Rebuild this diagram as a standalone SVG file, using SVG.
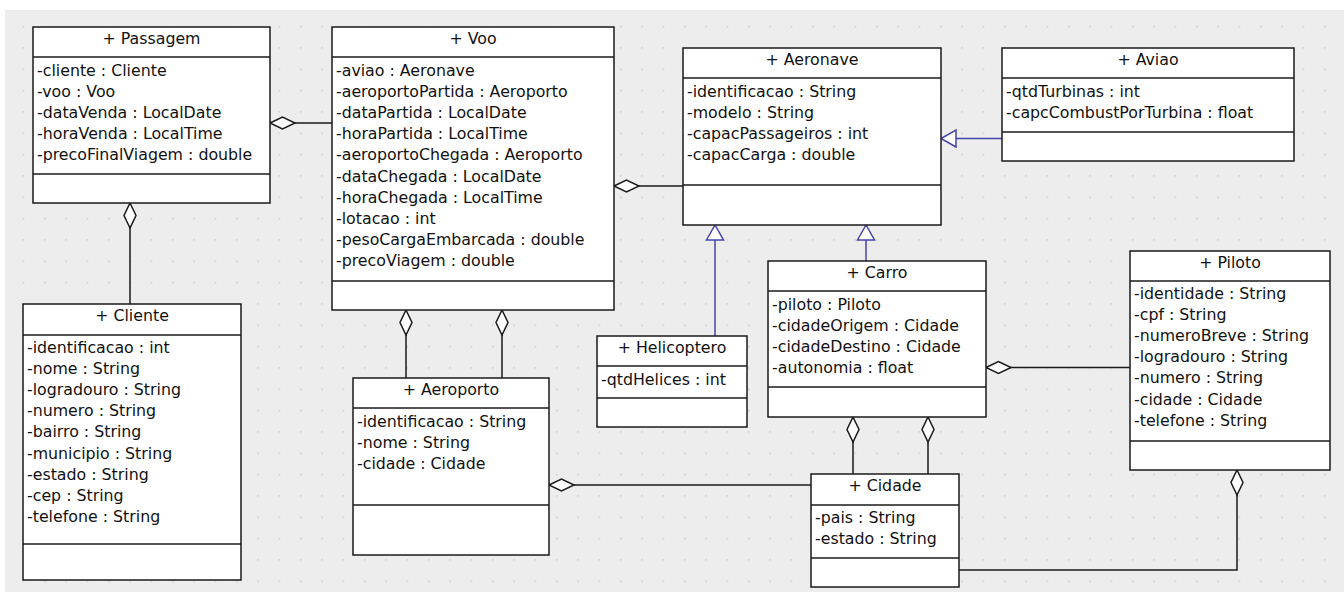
<svg xmlns="http://www.w3.org/2000/svg" width="1344" height="592" viewBox="0 0 1344 592">
<style>
.box{fill:#fff;stroke:#1a1a1a;stroke-width:1.5}
.sep{stroke:#1a1a1a;stroke-width:1.5}
text{font-family:"DejaVu Sans","Liberation Sans",sans-serif;font-size:15.8px;fill:#111}
.h{text-anchor:middle}
.agg{fill:none;stroke:#1a1a1a;stroke-width:1.5}
.gen{fill:none;stroke:#4444aa;stroke-width:1.5}
</style>
<defs>
<pattern id="grid" patternUnits="userSpaceOnUse" x="1.3" y="4.6" width="21.333" height="21.333">
<rect x="0" y="0" width="1.4" height="1.4" fill="#c6c6c6"/>
</pattern>
<marker id="dia" markerUnits="userSpaceOnUse" viewBox="-1 -1 27 14" refX="0" refY="6" markerWidth="27" markerHeight="14" orient="auto" overflow="visible">
<polygon points="0,6 12.5,0 25,6 12.5,12" fill="#fff" stroke="#1a1a1a" stroke-width="1.5"/>
</marker>
<marker id="tri" markerUnits="userSpaceOnUse" viewBox="-1 -1 17 19" refX="15" refY="8.5" markerWidth="17" markerHeight="19" orient="auto" overflow="visible">
<polygon points="0,0 15,8.5 0,17" fill="#fff" stroke="#4444aa" stroke-width="1.5"/>
</marker>
</defs>
<rect x="0" y="0" width="1344" height="592" fill="#fff"/>
<rect x="5" y="10" width="1339" height="582" fill="#ededed"/>
<rect x="5" y="10" width="1339" height="582" fill="url(#grid)"/>

<g id="connectors">
<path class="agg" d="M270,123 H332" marker-start="url(#dia)"/>
<path class="agg" d="M130,203 V304" marker-start="url(#dia)"/>
<path class="agg" d="M614,186 H683" marker-start="url(#dia)"/>
<path class="agg" d="M406,310 V378" marker-start="url(#dia)"/>
<path class="agg" d="M502,310 V378" marker-start="url(#dia)"/>
<path class="agg" d="M549,485 H811" marker-start="url(#dia)"/>
<path class="agg" d="M853,417 V474" marker-start="url(#dia)"/>
<path class="agg" d="M928,417 V474" marker-start="url(#dia)"/>
<path class="agg" d="M986,367.5 H1130" marker-start="url(#dia)"/>
<path class="agg" d="M1237,470 V570 H959" marker-start="url(#dia)"/>
<path class="gen" d="M1002,138.5 H941" marker-end="url(#tri)"/>
<path class="gen" d="M715,336 V225" marker-end="url(#tri)"/>
<path class="gen" d="M866,261 V225" marker-end="url(#tri)"/>
</g>

<g id="Passagem">
<rect class="box" x="33" y="27" width="237" height="176"/>
<line class="sep" x1="33" y1="57" x2="270" y2="57"/>
<line class="sep" x1="33" y1="174" x2="270" y2="174"/>
<text class="h" x="151.5" y="44">+ Passagem</text>
<text x="37" y="76"><tspan x="37">-cliente : Cliente</tspan><tspan x="37" dy="21.1">-voo : Voo</tspan><tspan x="37" dy="21.1">-dataVenda : LocalDate</tspan><tspan x="37" dy="21.1">-horaVenda : LocalTime</tspan><tspan x="37" dy="21.1">-precoFinalViagem : double</tspan></text>
</g>

<g id="Voo">
<rect class="box" x="332" y="27" width="282" height="283"/>
<line class="sep" x1="332" y1="57" x2="614" y2="57"/>
<line class="sep" x1="332" y1="281" x2="614" y2="281"/>
<text class="h" x="473" y="44">+ Voo</text>
<text x="336" y="76"><tspan x="336">-aviao : Aeronave</tspan><tspan x="336" dy="21.1">-aeroportoPartida : Aeroporto</tspan><tspan x="336" dy="21.1">-dataPartida : LocalDate</tspan><tspan x="336" dy="21.1">-horaPartida : LocalTime</tspan><tspan x="336" dy="21.1">-aeroportoChegada : Aeroporto</tspan><tspan x="336" dy="21.1">-dataChegada : LocalDate</tspan><tspan x="336" dy="21.1">-horaChegada : LocalTime</tspan><tspan x="336" dy="21.1">-lotacao : int</tspan><tspan x="336" dy="21.1">-pesoCargaEmbarcada : double</tspan><tspan x="336" dy="21.1">-precoViagem : double</tspan></text>
</g>

<g id="Aeronave">
<rect class="box" x="683" y="48" width="258" height="177"/>
<line class="sep" x1="683" y1="78" x2="941" y2="78"/>
<line class="sep" x1="683" y1="185" x2="941" y2="185"/>
<text class="h" x="812" y="65">+ Aeronave</text>
<text x="687" y="97"><tspan x="687">-identificacao : String</tspan><tspan x="687" dy="21.1">-modelo : String</tspan><tspan x="687" dy="21.1">-capacPassageiros : int</tspan><tspan x="687" dy="21.1">-capacCarga : double</tspan></text>
</g>

<g id="Aviao">
<rect class="box" x="1002" y="48" width="292" height="113"/>
<line class="sep" x1="1002" y1="78" x2="1294" y2="78"/>
<line class="sep" x1="1002" y1="132" x2="1294" y2="132"/>
<text class="h" x="1148" y="65">+ Aviao</text>
<text x="1006" y="97"><tspan x="1006">-qtdTurbinas : int</tspan><tspan x="1006" dy="21.1">-capcCombustPorTurbina : float</tspan></text>
</g>

<g id="Cliente">
<rect class="box" x="23" y="304" width="218" height="276"/>
<line class="sep" x1="23" y1="335" x2="241" y2="335"/>
<line class="sep" x1="23" y1="544" x2="241" y2="544"/>
<text class="h" x="132" y="321">+ Cliente</text>
<text x="27" y="353"><tspan x="27">-identificacao : int</tspan><tspan x="27" dy="21.1">-nome : String</tspan><tspan x="27" dy="21.1">-logradouro : String</tspan><tspan x="27" dy="21.1">-numero : String</tspan><tspan x="27" dy="21.1">-bairro : String</tspan><tspan x="27" dy="21.1">-municipio : String</tspan><tspan x="27" dy="21.1">-estado : String</tspan><tspan x="27" dy="21.1">-cep : String</tspan><tspan x="27" dy="21.1">-telefone : String</tspan></text>
</g>

<g id="Aeroporto">
<rect class="box" x="353" y="378" width="196" height="177"/>
<line class="sep" x1="353" y1="408" x2="549" y2="408"/>
<line class="sep" x1="353" y1="505" x2="549" y2="505"/>
<text class="h" x="451" y="395">+ Aeroporto</text>
<text x="357" y="427"><tspan x="357">-identificacao : String</tspan><tspan x="357" dy="21.1">-nome : String</tspan><tspan x="357" dy="21.1">-cidade : Cidade</tspan></text>
</g>

<g id="Helicoptero">
<rect class="box" x="597" y="336" width="150" height="91"/>
<line class="sep" x1="597" y1="366" x2="747" y2="366"/>
<line class="sep" x1="597" y1="398" x2="747" y2="398"/>
<text class="h" x="672" y="353">+ Helicoptero</text>
<text x="601" y="385">-qtdHelices : int</text>
</g>

<g id="Carro">
<rect class="box" x="768" y="261" width="218" height="156"/>
<line class="sep" x1="768" y1="291" x2="986" y2="291"/>
<line class="sep" x1="768" y1="387" x2="986" y2="387"/>
<text class="h" x="877" y="278">+ Carro</text>
<text x="772" y="310"><tspan x="772">-piloto : Piloto</tspan><tspan x="772" dy="21.1">-cidadeOrigem : Cidade</tspan><tspan x="772" dy="21.1">-cidadeDestino : Cidade</tspan><tspan x="772" dy="21.1">-autonomia : float</tspan></text>
</g>

<g id="Piloto">
<rect class="box" x="1130" y="251" width="200" height="219"/>
<line class="sep" x1="1130" y1="281" x2="1330" y2="281"/>
<line class="sep" x1="1130" y1="441" x2="1330" y2="441"/>
<text class="h" x="1230" y="268">+ Piloto</text>
<text x="1134" y="299"><tspan x="1134">-identidade : String</tspan><tspan x="1134" dy="21.1">-cpf : String</tspan><tspan x="1134" dy="21.1">-numeroBreve : String</tspan><tspan x="1134" dy="21.1">-logradouro : String</tspan><tspan x="1134" dy="21.1">-numero : String</tspan><tspan x="1134" dy="21.1">-cidade : Cidade</tspan><tspan x="1134" dy="21.1">-telefone : String</tspan></text>
</g>

<g id="Cidade">
<rect class="box" x="811" y="474" width="148" height="113"/>
<line class="sep" x1="811" y1="505" x2="959" y2="505"/>
<line class="sep" x1="811" y1="558" x2="959" y2="558"/>
<text class="h" x="885" y="491">+ Cidade</text>
<text x="815" y="523"><tspan x="815">-pais : String</tspan><tspan x="815" dy="21.1">-estado : String</tspan></text>
</g>
</svg>
